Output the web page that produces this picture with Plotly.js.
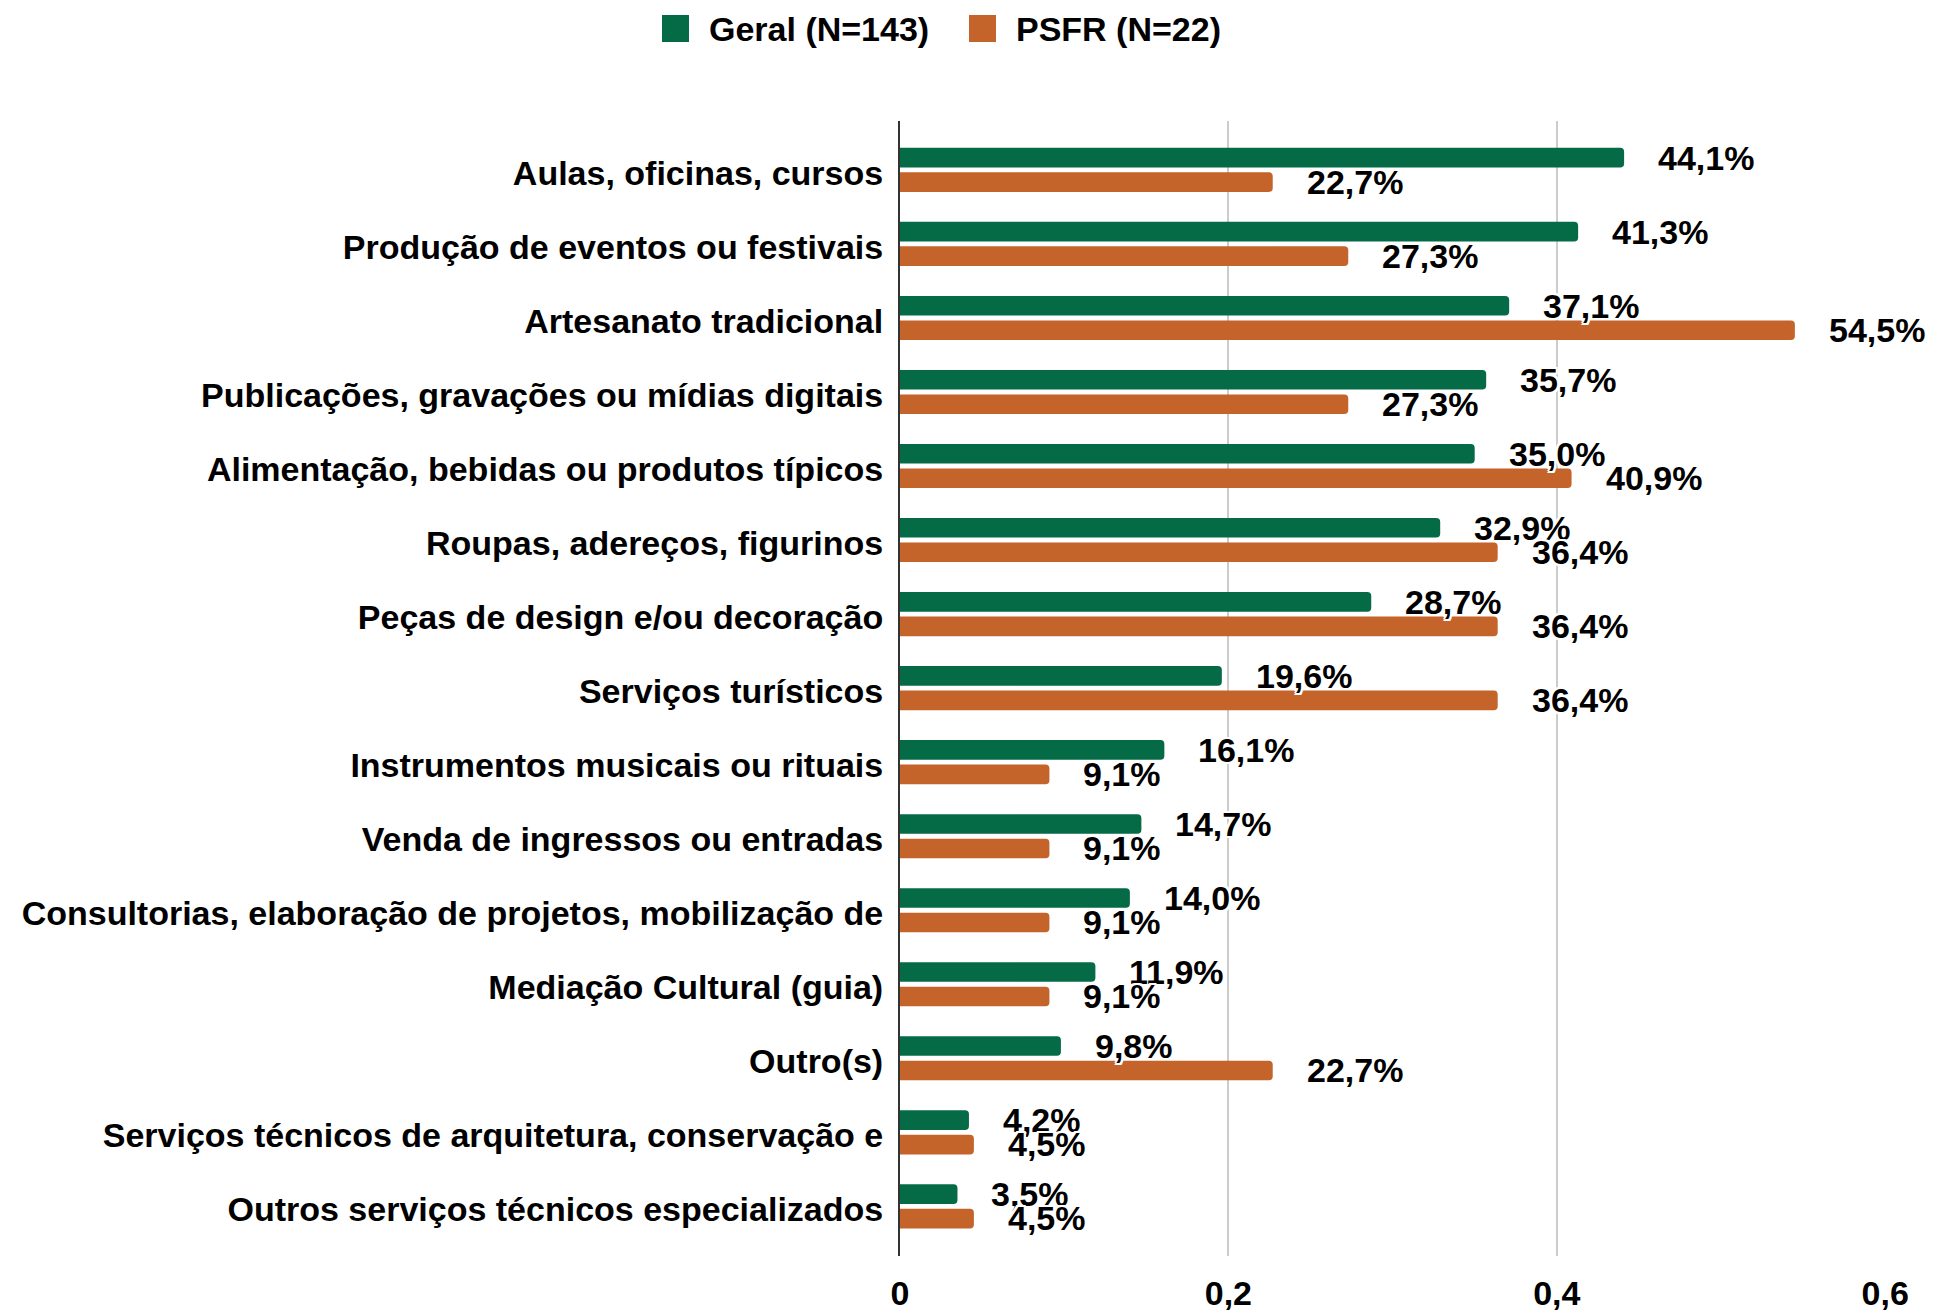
<!DOCTYPE html>
<html>
<head>
<meta charset="utf-8">
<script src="https://cdn.plot.ly/plotly-3.0.1.min.js"></script>
<style>
  html, body { margin: 0; padding: 0; background: #ffffff; }
  #chart { width: 1933px; height: 1312px; }
</style>
</head>
<body>
<div id="chart"></div>
<script>
const categories = [
  "Aulas, oficinas, cursos",
  "Produção de eventos ou festivais",
  "Artesanato tradicional",
  "Publicações, gravações ou mídias digitais",
  "Alimentação, bebidas ou produtos típicos",
  "Roupas, adereços, figurinos",
  "Peças de design e/ou decoração",
  "Serviços turísticos",
  "Instrumentos musicais ou rituais",
  "Venda de ingressos ou entradas",
  "Consultorias, elaboração de projetos, mobilização de",
  "Mediação Cultural (guia)",
  "Outro(s)",
  "Serviços técnicos de arquitetura, conservação e",
  "Outros serviços técnicos especializados"
];
const geralPct = [44.1, 41.3, 37.1, 35.7, 35.0, 32.9, 28.7, 19.6, 16.1, 14.7, 14.0, 11.9, 9.8, 4.2, 3.5];
const psfrPct  = [22.7, 27.3, 54.5, 27.3, 40.9, 36.4, 36.4, 36.4, 9.1, 9.1, 9.1, 9.1, 22.7, 4.5, 4.5];
const seriesNames = ["Geral (N=143)", "PSFR (N=22)"];
const seriesColors = ["#056b47", "#c4632a"];
const xTickVals = [0, 0.2, 0.4, 0.6];
const xTickText = ["0", "0,2", "0,4", "0,6"];

const FONT = "Liberation Sans, Arial, Helvetica, sans-serif";
const fmt = v => v.toFixed(1).replace(".", ",") + "%";

const series = [geralPct, psfrPct];
const traces = series.map((vals, i) => ({
  type: "bar",
  orientation: "h",
  name: seriesNames[i],
  y: categories,
  x: vals.map(v => v / 100),
  marker: { color: seriesColors[i], cornerradius: 4 },
  hoverinfo: "skip"
}));

const halo = "2px 2px 0 #fff, -2px -2px 0 #fff, 2px -2px 0 #fff, -2px 2px 0 #fff, 0 2px 0 #fff, 0 -2px 0 #fff, 2px 0 0 #fff, -2px 0 0 #fff";
const annotations = [];
series.forEach((vals, i) => {
  vals.forEach((v, j) => {
    annotations.push({
      x: v / 100, y: categories[j], xref: "x", yref: "y",
      text: fmt(v), showarrow: false,
      xanchor: "left", yanchor: "middle",
      xshift: 32, yshift: i === 0 ? 12 : -12,
      font: { family: FONT, size: 34, color: "#000", weight: "bold", shadow: halo }
    });
  });
});

// Larger legend swatches drawn behind the legend's own symbols (plot area: x 900..1886, y 121..1256 px)
const plotL = 900, plotW = 986, plotB = 1256, plotH = 1135;
const px2x = p => (p - plotL) / plotW;
const px2y = p => (plotB - p) / plotH;
const swatchLeft = [662, 969];
const shapes = swatchLeft.map((l, i) => ({
  type: "rect", xref: "paper", yref: "paper",
  x0: px2x(l), x1: px2x(l + 27), y0: px2y(42), y1: px2y(15),
  fillcolor: seriesColors[i], line: { width: 0 }, layer: "above"
}));

const layout = {
  width: 1933, height: 1312,
  paper_bgcolor: "#ffffff", plot_bgcolor: "#ffffff",
  margin: { l: 900, r: 47, t: 121, b: 56, autoexpand: false },
  barmode: "group", bargap: 0.338, bargroupgap: 0.2,
  separators: ",.",
  font: { family: FONT, size: 34, color: "#000", weight: "bold" },
  showlegend: true,
  legend: {
    orientation: "h", traceorder: "normal",
    xref: "container", yref: "container",
    x: 642 / 1933, xanchor: "left", y: 1 - 28 / 1312, yanchor: "middle",
    itemwidth: 57, entrywidth: 235, entrywidthmode: "pixels",
    font: { family: FONT, size: 34, color: "#000", weight: "bold" },
    bgcolor: "rgba(0,0,0,0)"
  },
  shapes: shapes,
  xaxis: {
    range: [0, 0.6005], tickvals: xTickVals, ticktext: xTickText,
    showgrid: true, gridcolor: "#cccccc", gridwidth: 2,
    zeroline: false, showline: false, ticks: "",
    ticklabelstandoff: 14,
    tickfont: { family: FONT, size: 34, color: "#000", weight: "bold" },
    fixedrange: true
  },
  yaxis: {
    type: "category", categoryorder: "array", categoryarray: categories,
    range: [14.67, -0.66],
    showgrid: false, zeroline: false,
    showline: true, linecolor: "#333333", linewidth: 2,
    ticks: "", ticklabelstandoff: 8, ticklabelshift: -3,
    tickfont: { family: FONT, size: 34, color: "#000", weight: "bold" },
    fixedrange: true
  },
  annotations: annotations
};

Plotly.newPlot("chart", traces, layout, { displayModeBar: false, responsive: false });
</script>
</body>
</html>
